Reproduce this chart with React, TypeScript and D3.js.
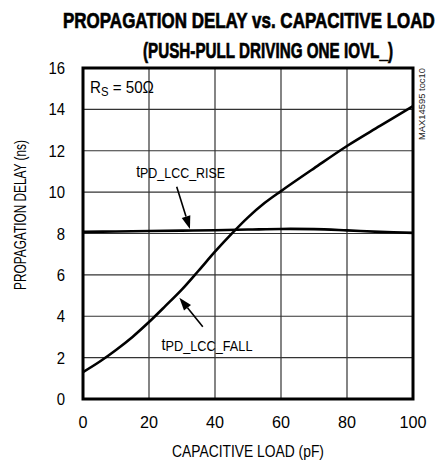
import React, { useLayoutEffect, useRef, useState } from 'react'
import * as d3 from 'd3'

// capacitive load (pF) and propagation delays (ns)
const riseLoad = [0, 10, 20, 30, 40, 50, 60, 70, 80, 90, 100]
const riseDelay = [8.08, 8.1, 8.12, 8.14, 8.16, 8.19, 8.22, 8.21, 8.15, 8.08, 8.03]

const fallLoad = [0, 5, 10, 15, 20, 25, 30, 35, 40, 45, 50, 55, 60, 70, 80, 90, 100]
const fallDelay = [1.3, 1.8, 2.37, 3.0, 3.72, 4.5, 5.3, 6.2, 7.12, 7.98, 8.78, 9.47, 10.05, 11.15, 12.23, 13.2, 14.16]

const xTicks = [0, 20, 40, 60, 80, 100]
const yTicks = [0, 2, 4, 6, 8, 10, 12, 14, 16]

const titleLines = ['PROPAGATION DELAY vs. CAPACITIVE LOAD', '(PUSH-PULL DRIVING ONE IOVL_)']

const font = "'Liberation Sans', Arial, sans-serif"

interface FitProps {
    x: number
    y: number
    w: number
    rotate?: number
    anchor?: 'start' | 'middle' | 'end'
    size: number
    bold?: boolean
    heavy?: number
    fill?: string
    children: React.ReactNode
}

// squeezes a text horizontally so that it spans w pixels (the original uses a condensed face)
const FitText = ({ x, y, w, rotate = 0, anchor = 'start', size, bold, heavy = 0, fill = 'black', children }: FitProps) => {
    const ref = useRef<SVGTextElement>(null)
    const [s, setS] = useState(0.82)
    useLayoutEffect(() => {
        if (ref.current) {
            const natural = ref.current.getComputedTextLength()
            if (natural > 0) setS(w / natural)
        }
    }, [w])
    return (
        <g transform={`translate(${x},${y}) rotate(${rotate}) scale(${s},1)`}>
            <text ref={ref} textAnchor={anchor} fontFamily={font} fontSize={size}
                  fontWeight={bold ? 'bold' : 'normal'} fill={fill}
                  stroke={heavy ? fill : 'none'} strokeWidth={heavy}>{children}</text>
        </g>
    )
}

const App = () => {
    const width = 439
    const height = 461
    const left = 83
    const right = 413
    const top = 68
    const bottom = 399

    const x = d3.scaleLinear().domain([0, 100]).range([left, right])
    const y = d3.scaleLinear().domain([0, 16]).range([bottom, top])

    const line = d3.line<[number, number]>()
        .x(d => x(d[0]))
        .y(d => y(d[1]))
        .curve(d3.curveCatmullRom.alpha(0.5))

    const risePath = line(riseLoad.map((v, i) => [v, riseDelay[i]]) as [number, number][])
    const fallPath = line(fallLoad.map((v, i) => [v, fallDelay[i]]) as [number, number][])

    // arrow annotations, in data units
    const arrows = [
        { from: [28.4, 10.26], to: [32.4, 8.22] },
        { from: [36.3, 3.49], to: [29.2, 4.9] },
    ]

    const arrowShape = (a: { from: number[], to: number[] }, i: number) => {
        const x1 = x(a.from[0]), y1 = y(a.from[1])
        const x2 = x(a.to[0]), y2 = y(a.to[1])
        const ang = Math.atan2(y2 - y1, x2 - x1)
        const len = 13
        const half = 4.5
        const bx = x2 - len * Math.cos(ang)
        const by = y2 - len * Math.sin(ang)
        const px = -Math.sin(ang) * half
        const py = Math.cos(ang) * half
        return (
            <g key={`arrow-${i}`}>
                <line x1={x1} y1={y1} x2={bx} y2={by} stroke="black" strokeWidth={1.6} />
                <path d={`M${x2},${y2}L${bx + px},${by + py}L${bx - px},${by - py}Z`} fill="black" />
            </g>
        )
    }

    return (
        <svg width={width} height={height} style={{ display: 'block', position: 'absolute', left: 0, top: 0 }}>
            <rect width={width} height={height} fill="white" />

            <FitText x={63} y={28} w={372} size={22} bold heavy={0.7}>{titleLines[0]}</FitText>
            <FitText x={143} y={58} w={250} size={22} bold heavy={0.7}>{titleLines[1]}</FitText>

            {xTicks.slice(1, -1).map(t => (
                <line key={`gx-${t}`} x1={x(t)} x2={x(t)} y1={top} y2={bottom} stroke="#333" strokeWidth={1.2} />
            ))}
            {yTicks.slice(1, -1).map(t => (
                <line key={`gy-${t}`} x1={left} x2={right} y1={y(t)} y2={y(t)} stroke="#333" strokeWidth={1.2} />
            ))}

            <path d={risePath ?? ''} fill="none" stroke="black" strokeWidth={2.6} />
            <path d={fallPath ?? ''} fill="none" stroke="black" strokeWidth={2.6} />

            <rect x={left} y={top} width={right - left} height={bottom - top} fill="none" stroke="black" strokeWidth={3} />

            {yTicks.map(t => (
                <FitText key={`yt-${t}`} x={65} y={y(t) + 6} w={String(t).length * 8.3} anchor="end" size={17}>{t}</FitText>
            ))}
            {xTicks.map(t => (
                <FitText key={`xt-${t}`} x={x(t)} y={428} w={String(t).length * 9} anchor="middle" size={17}>{t}</FitText>
            ))}

            <FitText x={26} y={215} w={150} rotate={-90} anchor="middle" size={16}>PROPAGATION DELAY (ns)</FitText>
            <FitText x={248} y={457} w={152} anchor="middle" size={16}>CAPACITIVE LOAD (pF)</FitText>

            <FitText x={425} y={140} w={72} rotate={-90} size={9} fill="#222">MAX14595 toc10</FitText>

            <FitText x={x(2.1)} y={y(14.79)} w={64} size={16}>
                R<tspan fontSize={12} dy={3}>S</tspan><tspan dy={-3}> = 50Ω</tspan>
            </FitText>

            <FitText x={x(16.1)} y={y(10.73)} w={89} size={16}>
                t<tspan fontSize={14} dy={1}>PD_LCC_RISE</tspan>
            </FitText>
            <FitText x={x(23.8)} y={y(2.37)} w={91} size={16}>
                t<tspan fontSize={14} dy={1}>PD_LCC_FALL</tspan>
            </FitText>

            {arrows.map(arrowShape)}
        </svg>
    )
}

export default App
